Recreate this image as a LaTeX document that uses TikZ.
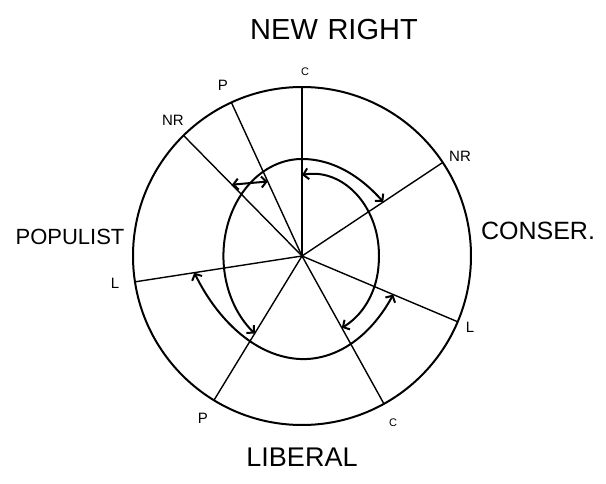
\documentclass[tikz,border=0pt]{standalone}
\usepackage{fontspec}
\setmainfont{Liberation Sans}
\usetikzlibrary{arrows.meta}
\begin{document}
\begin{tikzpicture}[x=1pt,y=-1pt,
  declare function={
    re(\t)=8100/sqrt((100*cos(\t))^2+(81*sin(\t))^2);
    sa(\t)=0.97+(max(0,90-(\t))/137)^2;
    sb(\t)=1.03+(max(0,265-(\t))/137)^2+(max(0,(\t)-265)/180)^2;
    sc(\t)=0.95-(max(0,(\t)-5)/227)^2-(max(0,-10-(\t))/180)^2;
  },
  spoke/.style={line width=1.4pt, line cap=round},
  rim/.style={line width=2pt},
  twoway/.style={line width=2pt, line cap=round,
    {Straight Barb[length=5pt,width=11pt]}-{Straight Barb[length=5pt,width=11pt]}},
  tag/.style={font=\fontsize{15}{15}\selectfont, inner sep=0pt},
  ctag/.style={font=\fontsize{11}{11}\selectfont, inner sep=0pt},
  heading/.style={inner sep=0pt}]
\useasboundingbox (0,0) rectangle (606,484);
\fill[white] (0,0) rectangle (606,484);
\coordinate (O) at (302,256);
\draw[rim] (O) circle[radius=169pt];
\foreach \n/\a in {Ctop/90, Ptop/114.7, NRl/134.5, NRr/33.6, Ll/188.8, Lr/337.1, Pb/238.6, Cb/299}
  {\path (O) ++(\a:169pt) coordinate (\n);
   \draw[spoke] (O) -- (\n);}
% inner arcs with arrows (spiral pieces of the inner circle)
\draw[twoway] plot[domain=238.6:33.6, samples=90]
  ({302+sa(\x)*re(\x)*cos(\x)}, {256-sa(\x)*re(\x)*sin(\x)});
\draw[twoway] plot[domain=188.8:337.1, samples=70]
  ({302+sb(\x)*re(\x)*cos(\x)}, {256-sb(\x)*re(\x)*sin(\x)});
\draw[twoway] plot[domain=90:-61, samples=70]
  ({302+sc(\x)*re(\x)*cos(\x)}, {256-sc(\x)*re(\x)*sin(\x)});
% short arrow between NR and P
\path (O) ++(134.5:100pt) coordinate (d1);
\path (O) ++(114.7:82pt) coordinate (d2);
\draw[twoway] (d1) -- (d2);
% small labels
\node[ctag] (lCt) at (305,72) {C};
\node[tag] (lPt) at (223,85) {P};
\node[tag] (lNRl) at (173,120) {NR};
\node[tag] (lNRr) at (460,156) {NR};
\node[tag] (lLl) at (115,283) {L};
\node[tag] (lLr) at (470,327) {L};
\node[tag] (lPb) at (203,418) {P};
\node[ctag] (lCb) at (393,423) {C};
% headings
\node[heading, font=\fontsize{29}{29}\selectfont] (nr) at (334,30) {NEW\,\,RIGHT};
\node[heading, font=\fontsize{25}{25}\selectfont] (cons) at (538,231) {CONSER.};
\node[heading, font=\fontsize{22}{22}\selectfont] (pop) at (70,237) {POPULIST};
\node[heading, font=\fontsize{27}{27}\selectfont] (lib) at (302,457) {LIBERAL};
\end{tikzpicture}
\end{document}
